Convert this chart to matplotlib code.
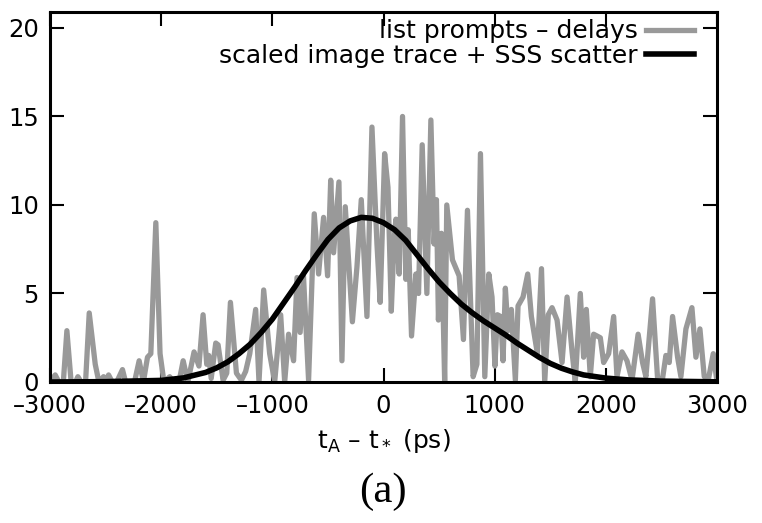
import numpy as np
import matplotlib
matplotlib.use("Agg")
import matplotlib.pyplot as plt

# gray trace: list prompts - delays (vertices)
t_list = [-3000, -2953, -2920, -2880, -2848, -2810, -2770, -2749, -2720, -2680,
          -2647, -2593, -2560, -2518, -2495, -2473, -2440, -2400, -2348, -2320,
          -2240, -2198, -2160, -2123, -2093, -2048, -2010, -1975, -1923, -1890,
          -1840, -1802, -1760, -1704, -1660, -1623, -1590, -1572, -1550, -1509,
          -1488, -1443, -1410, -1377, -1323, -1278, -1240, -1203, -1150, -1120,
          -1078, -1024, -979, -925, -889, -854, -809, -778, -750, -720,
          -674, -623, -584, -539, -503, -475, -449, -401, -374, -344,
          -314, -280, -239, -200, -149, -104, -59, -30, 10, 40,
          70, 95, 111, 141, 171, 201, 222, 252, 291, 315,
          348, 390, 426, 455, 476, 494, 521, 550, 569, 620,
          680, 719, 755, 806, 840, 872, 911, 947, 976, 1002,
          1024, 1054, 1075, 1096, 1120, 1150, 1186, 1210, 1255, 1297,
          1330, 1384, 1421, 1450, 1482, 1516, 1561, 1606, 1651, 1696,
          1725, 1770, 1800, 1824, 1860, 1890, 1950, 1980, 2025, 2070,
          2100, 2145, 2190, 2235, 2290, 2330, 2360, 2420, 2465, 2510,
          2540, 2570, 2600, 2645, 2675, 2720, 2774, 2810, 2846, 2885,
          2924, 2966, 3000]
n_list = [0.0, 0.4, 0.0, 0.0, 2.9, 0.0, 0.0, 0.3, 0.0, 0.0,
          3.9, 1.0, 0.0, 0.3, 0.0, 0.4, 0.0, 0.0, 0.7, 0.0,
          0.0, 1.2, 0.0, 1.4, 1.6, 9.0, 1.6, 0.0, 0.3, 0.0,
          0.0, 1.2, 0.0, 1.7, 0.9, 3.8, 1.0, 1.5, 0.2, 2.2,
          2.1, 0.1, 0.5, 4.5, 0.5, 0.1, 0.6, 1.6, 4.1, 0.0,
          5.2, 1.6, 0.0, 3.8, 0.0, 2.7, 1.2, 5.9, 2.8, 6.0,
          0.1, 9.5, 6.1, 9.3, 6.0, 11.4, 7.3, 11.3, 1.2, 9.9,
          6.9, 3.4, 6.5, 10.3, 3.7, 14.4, 7.8, 4.5, 12.9, 11.0,
          4.0, 8.0, 9.2, 6.1, 15.0, 5.8, 8.6, 2.6, 6.1, 5.0,
          13.4, 5.0, 14.8, 7.8, 10.3, 3.5, 8.4, 0.0, 10.0, 6.9,
          6.0, 2.4, 9.7, 0.3, 1.0, 12.9, 0.3, 6.1, 4.8, 0.9,
          3.8, 3.7, 1.2, 5.3, 2.9, 4.1, 0.1, 4.3, 4.8, 6.1,
          3.7, 1.6, 6.4, 0.0, 3.8, 4.2, 3.5, 1.1, 4.8, 1.7,
          0.0, 5.0, 1.4, 4.1, 0.3, 2.7, 2.5, 1.1, 1.6, 3.7,
          0.3, 1.7, 1.2, 0.1, 2.7, 1.1, 0.3, 4.7, 0.2, 0.2,
          1.5, 1.1, 3.7, 1.4, 0.3, 3.0, 4.2, 1.4, 3.0, 0.3,
          0.2, 1.6, 0.0]

# black curve: scaled image trace + SSS scatter
t_img = [-3000, -2500, -2000, -1800, -1600, -1500, -1400, -1300, -1200, -1100,
         -1000, -900, -800, -700, -600, -500, -400, -300, -200, -100,
         0, 100, 200, 300, 400, 500, 600, 700, 800, 900,
         1000, 1100, 1200, 1300, 1400, 1500, 1600, 1700, 1800, 2000,
         2200, 2500, 3000]
n_img = [0.0, 0.02, 0.09, 0.23, 0.54, 0.8, 1.14, 1.6, 2.13, 2.8,
         3.55, 4.45, 5.35, 6.3, 7.2, 8.05, 8.7, 9.1, 9.3, 9.25,
         9.0, 8.6, 8.0, 7.2, 6.4, 5.65, 5.0, 4.4, 3.9, 3.45,
         3.05, 2.65, 2.2, 1.8, 1.4, 1.05, 0.78, 0.57, 0.4, 0.22,
         0.12, 0.05, 0.01]

x_ticks = [-3000, -2000, -1000, 0, 1000, 2000, 3000]
x_labels = ['–3000', '–2000', '–1000', '0', '1000', '2000', '3000']
y_ticks = [0, 5, 10, 15, 20]

plt.rcParams['font.family'] = 'DejaVu Sans'
plt.rcParams['mathtext.default'] = 'regular'

fig = plt.figure(figsize=(7.62, 5.23), dpi=100)
ax = fig.add_axes([0.0656, 0.2696, 0.8754, 0.7074])

ax.plot(t_list, n_list, color='#999999', lw=3.8, label='list prompts – delays')
ax.plot(t_img, n_img, color='black', lw=4.0, label='scaled image trace + SSS scatter')

ax.set_xlim(-3000, 3000)
ax.set_ylim(0, 20.9)
ax.set_xticks(x_ticks)
ax.set_yticks(y_ticks)
ax.set_xticklabels(x_labels)
ax.tick_params(direction='in', length=10, width=1.5, top=True, right=True,
               labelsize=17.5)
ax.tick_params(axis='x', pad=9)
ax.tick_params(axis='y', pad=8)
for s in ax.spines.values():
    s.set_linewidth(2.2)

ax.set_xlabel(r'$t_A$ – t$_*$ (ps)', fontsize=18, labelpad=6)

ax.legend(loc='upper right', bbox_to_anchor=(0.969, 0.987), frameon=False,
          markerfirst=False, fontsize=18, handlelength=1.9,
          handletextpad=0.35, labelspacing=0.02, borderaxespad=0.0,
          borderpad=0.1)

fig.text(0.503, 0.06, '(a)', family='Liberation Serif', fontsize=31,
         ha='center', va='center')

fig.savefig('out.png', dpi=100)
